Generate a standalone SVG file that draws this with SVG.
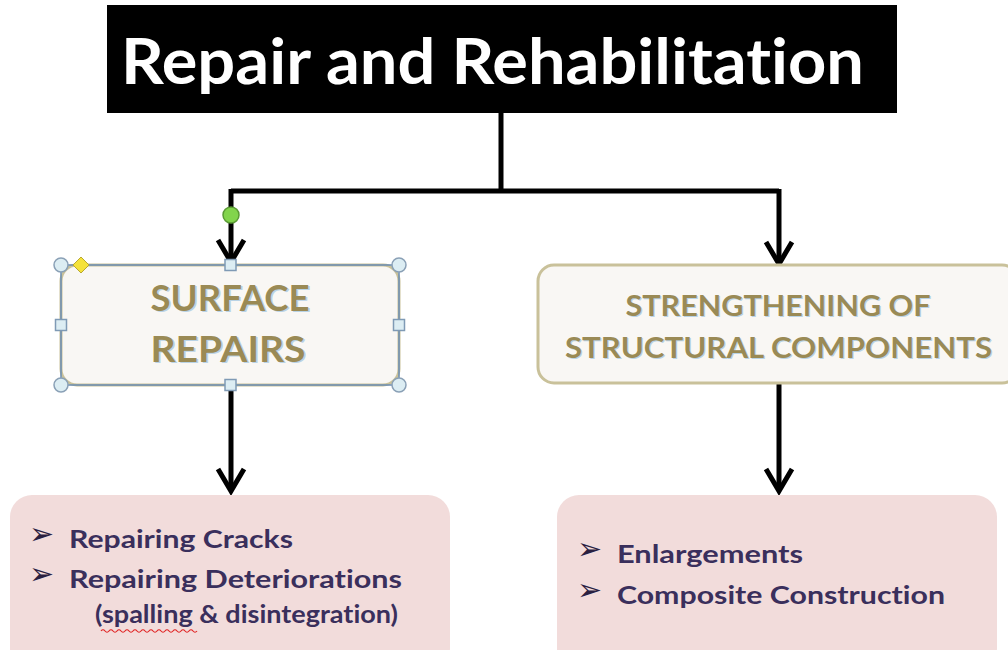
<svg xmlns="http://www.w3.org/2000/svg" width="1008" height="650" viewBox="0 0 1008 650">
  <defs>
    <style>
      text { font-variant-ligatures: none; font-feature-settings: "liga" 0, "clig" 0; }
      .title { font-family: Lato, "Open Sans", sans-serif; font-weight: bold; font-size: 64px; fill: #ffffff; }
      .head { font-family: Lato, "Open Sans", sans-serif; font-weight: bold; fill: #9a8a55; text-anchor: middle; }
      .shadow { fill: #b9d3e6; }
      .item { font-family: Lato, "Open Sans", sans-serif; font-weight: bold; font-size: 24px; fill: #3a2f5c; }
      .bul { font-family: "DejaVu Sans", sans-serif; font-size: 30px; fill: #2a2040; }
      .conn { stroke: #000; stroke-width: 5; fill: none; }
      .handleC { fill: #dcedf3; stroke: #8aa0b6; stroke-width: 1.5; }
      .handleS { fill: #dcedf3; stroke: #7f9ab5; stroke-width: 1.5; }
      .pink { fill: #f2dcdb; }
    </style>
    <marker id="arr" markerUnits="userSpaceOnUse" markerWidth="40" markerHeight="40" viewBox="-30 -20 40 40" refX="0" refY="0" orient="auto">
      <path d="M -22 -13 L 0 0 L -22 13" fill="none" stroke="#000" stroke-width="5" stroke-linejoin="miter"/>
    </marker>
  </defs>
  <rect width="1008" height="650" fill="#ffffff"/>

  <g id="connectors">
    <path class="conn" d="M 501 112 V 191"/>
    <path class="conn" d="M 231 191 H 779"/>
    <path class="conn" d="M 231 189 V 262" marker-end="url(#arr)"/>
    <path class="conn" d="M 779 189 V 264" marker-end="url(#arr)"/>
    <path class="conn" d="M 231 385 V 491" marker-end="url(#arr)"/>
    <path class="conn" d="M 779 384 V 491" marker-end="url(#arr)"/>
  </g>

  <g id="title">
    <rect x="107" y="5" width="790" height="108" fill="#000000"/>
    <text class="title" x="121" y="84" textLength="743" lengthAdjust="spacingAndGlyphs">Repair and Rehabilitation</text>
  </g>

  <g id="surface-repairs">
    <rect x="61" y="265" width="338" height="120" rx="16" fill="#f9f7f4" stroke="#c9c19a" stroke-width="3"/>
    <rect x="61" y="265" width="338" height="120" fill="none" stroke="#6a8cb2" stroke-width="1.5"/>
    <text class="head shadow" x="231.5" y="312" font-size="36" textLength="159" lengthAdjust="spacingAndGlyphs">SURFACE</text>
    <text class="head" x="230" y="311" font-size="36" textLength="159" lengthAdjust="spacingAndGlyphs">SURFACE</text>
    <text class="head shadow" x="229.5" y="363" font-size="36" textLength="155" lengthAdjust="spacingAndGlyphs">REPAIRS</text>
    <text class="head" x="228" y="362" font-size="36" textLength="155" lengthAdjust="spacingAndGlyphs">REPAIRS</text>
    <circle class="handleC" cx="61" cy="265" r="7"/>
    <circle class="handleC" cx="399" cy="265" r="7"/>
    <circle class="handleC" cx="61" cy="385" r="7"/>
    <circle class="handleC" cx="399" cy="385" r="7"/>
    <rect class="handleS" x="225" y="259.5" width="11" height="11"/>
    <rect class="handleS" x="225" y="379.5" width="11" height="11"/>
    <rect class="handleS" x="55.5" y="319.5" width="11" height="11"/>
    <rect class="handleS" x="393.5" y="319.5" width="11" height="11"/>
    <path d="M 81 257 L 89 265 L 81 273 L 73 265 Z" fill="#f5e23a" stroke="#b8a830" stroke-width="1"/>
    <circle cx="231" cy="215" r="8" fill="#82d44c" stroke="#5a9a34" stroke-width="1.5"/>
  </g>

  <g id="strengthening">
    <rect x="538" y="265" width="480" height="118" rx="16" fill="#f9f7f4" stroke="#c9c19a" stroke-width="3"/>
    <text class="head shadow" x="779" y="317" font-size="28" textLength="305" lengthAdjust="spacingAndGlyphs">STRENGTHENING OF</text>
    <text class="head" x="778" y="316" font-size="28" textLength="305" lengthAdjust="spacingAndGlyphs">STRENGTHENING OF</text>
    <text class="head shadow" x="779.5" y="359" font-size="28" textLength="427" lengthAdjust="spacingAndGlyphs">STRUCTURAL COMPONENTS</text>
    <text class="head" x="778.5" y="358" font-size="28" textLength="427" lengthAdjust="spacingAndGlyphs">STRUCTURAL COMPONENTS</text>
  </g>

  <g id="surface-items">
    <rect class="pink" x="10" y="495" width="440" height="175" rx="22"/>
    <text class="bul" x="29" y="544">➢</text>
    <text class="item" x="69" y="548" textLength="224" lengthAdjust="spacingAndGlyphs">Repairing Cracks</text>
    <text class="bul" x="29" y="584">➢</text>
    <text class="item" x="69" y="588" textLength="333" lengthAdjust="spacingAndGlyphs">Repairing Deteriorations</text>
    <text class="item" x="95" y="623" font-weight="600" textLength="303" lengthAdjust="spacingAndGlyphs">(spalling &amp; disintegration)</text>
    <path d="M 101 631 q 2 -2.5 4 0 t 4 0 t 4 0 t 4 0 t 4 0 t 4 0 t 4 0 t 4 0 t 4 0 t 4 0 t 4 0 t 4 0 t 4 0 t 4 0 t 4 0 t 4 0 t 4 0 t 4 0 t 4 0 t 4 0 t 4 0 t 4 0 t 4 0 t 4 0" fill="none" stroke="#e02020" stroke-width="1.2"/>
  </g>

  <g id="strengthening-items">
    <rect class="pink" x="557" y="495" width="440" height="175" rx="22"/>
    <text class="bul" x="577" y="559">➢</text>
    <text class="item" x="617" y="563" textLength="186" lengthAdjust="spacingAndGlyphs">Enlargements</text>
    <text class="bul" x="577" y="600">➢</text>
    <text class="item" x="617" y="604" textLength="328" lengthAdjust="spacingAndGlyphs">Composite Construction</text>
  </g>
</svg>
